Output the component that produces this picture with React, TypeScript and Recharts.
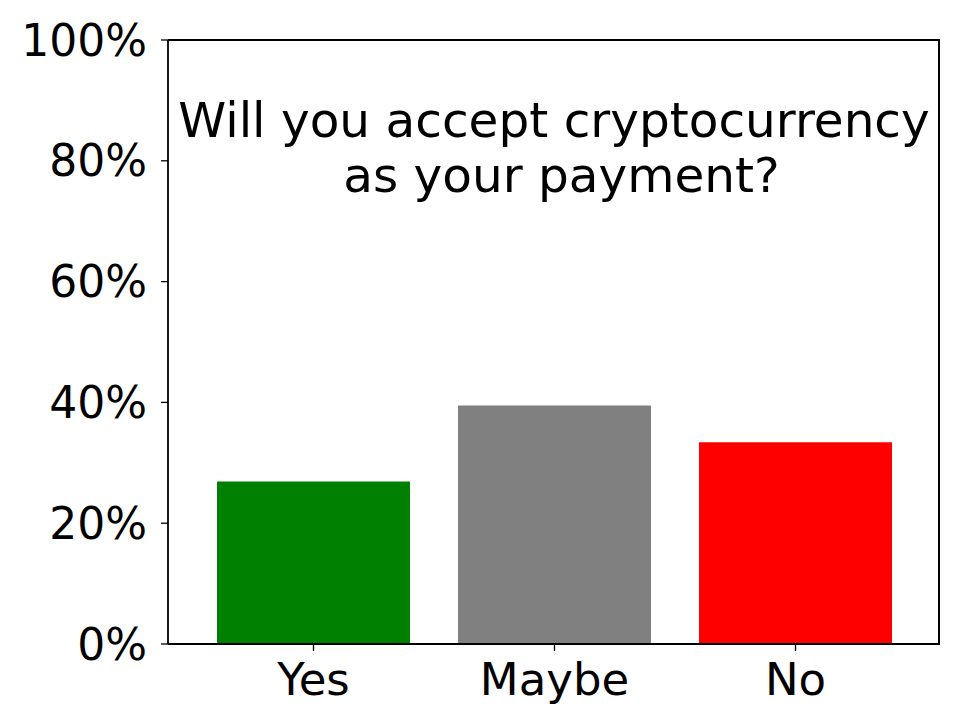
import React from 'react';
import { BarChart, Bar, XAxis, YAxis, Cell } from 'recharts';

const answers = ['Yes', 'Maybe', 'No'];
const shares = [26.9, 39.5, 33.4];
const barColors = ['#008000', '#808080', '#ff0000'];
const yTicks = [0, 20, 40, 60, 80, 100];
const titleLines = ['Will you accept cryptocurrency', 'as your payment?'];

const data = answers.map((answer, i) => ({ answer, share: shares[i] }));

const FONT = '"DejaVu Sans", sans-serif';
const yTickStyle = { fill: '#000', fontSize: 44, fontFamily: FONT };
const xTickStyle = { fill: '#000', fontSize: 45, fontFamily: FONT };

// plot box, matches chart margins below
const PLOT = { left: 168, top: 40, right: 940, bottom: 644 };

export default function App() {
    return (
        <div style={{ position: 'absolute', left: 0, top: 0, width: 968, height: 726, background: '#fff' }}>
            <BarChart
                width={968}
                height={726}
                data={data}
                margin={{ top: 40, right: 28, left: 0, bottom: 0 }}
                barCategoryGap={24}
            >
                <XAxis
                    dataKey="answer"
                    height={82}
                    padding={{ left: 25, right: 24 }}
                    axisLine={{ stroke: '#000', strokeWidth: 1.8 }}
                    tickLine={{ stroke: '#000', strokeWidth: 1.3 }}
                    tickSize={7}
                    tickMargin={12}
                    tick={xTickStyle}
                />
                <YAxis
                    width={168}
                    domain={[0, 100]}
                    ticks={yTicks}
                    tickFormatter={(v) => `${v}%`}
                    axisLine={{ stroke: '#000', strokeWidth: 1.8 }}
                    tickLine={{ stroke: '#000', strokeWidth: 1.3 }}
                    tickSize={7}
                    tickMargin={14}
                    tick={yTickStyle}
                />
                <Bar dataKey="share" isAnimationActive={false}>
                    {data.map((entry, index) => (
                        <Cell key={entry.answer} fill={barColors[index]} />
                    ))}
                </Bar>
            </BarChart>
            {/* top and right spines */}
            <div
                style={{
                    position: 'absolute',
                    left: PLOT.left,
                    top: PLOT.top - 1,
                    width: PLOT.right - PLOT.left,
                    height: PLOT.bottom - PLOT.top,
                    borderTop: '2px solid #000',
                    borderRight: '2px solid #000',
                    boxSizing: 'border-box',
                    pointerEvents: 'none',
                }}
            />
            <div
                style={{
                    position: 'absolute',
                    left: PLOT.left,
                    top: 93,
                    width: PLOT.right - PLOT.left,
                    textAlign: 'center',
                    fontFamily: FONT,
                    fontSize: 48.5,
                    lineHeight: '55px',
                    color: '#000',
                }}
            >
                {titleLines.map((line, i) => (
                    <div key={line} style={{ paddingLeft: i === 1 ? 15 : 0 }}>{line}</div>
                ))}
            </div>
        </div>
    );
}
